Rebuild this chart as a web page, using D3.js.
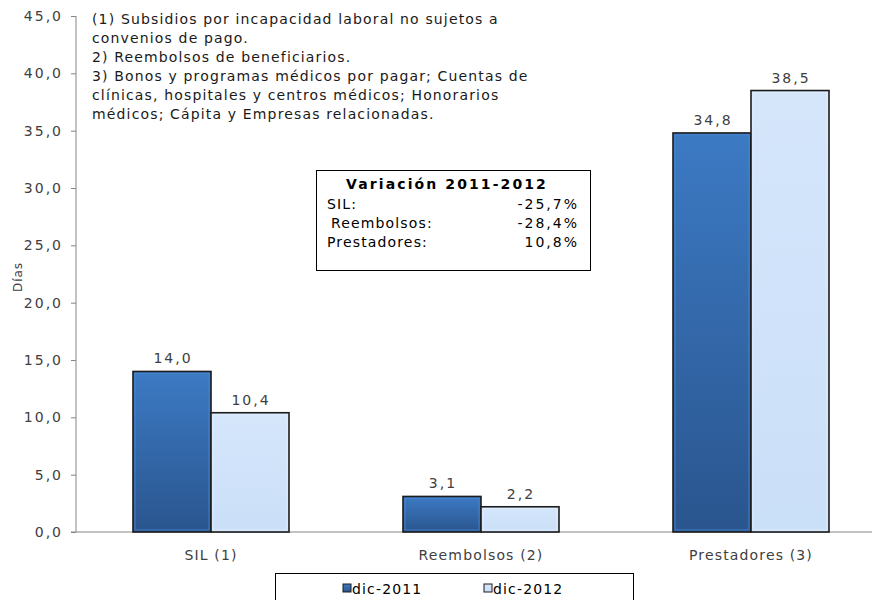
<!DOCTYPE html>
<html><head><meta charset="utf-8">
<script src="https://cdn.jsdelivr.net/npm/d3@7"></script>
<style>body{margin:0;background:#fff}svg{display:block;font-family:"DejaVu Sans",Verdana,sans-serif}
svg text{font-size:14px;letter-spacing:1.15px}
svg text.num{letter-spacing:2px}</style>
</head><body><svg id="c" width="876" height="600"></svg>
<script>
const categories = ["SIL (1)", "Reembolsos (2)", "Prestadores (3)"];
const seriesNames = ["dic-2011", "dic-2012"];
const values2011 = [14.0, 3.1, 34.8];
const values2012 = [10.4, 2.2, 38.5];
const yTicks = [0, 5, 10, 15, 20, 25, 30, 35, 40, 45];
const notes = [
  "(1) Subsidios por incapacidad laboral no sujetos a",
  "convenios de pago.",
  "2) Reembolsos de beneficiarios.",
  "3) Bonos y programas médicos por pagar; Cuentas de",
  "clínicas, hospitales y centros médicos; Honorarios",
  "médicos; Cápita y Empresas relacionadas."
];
const varTitle = "Variación 2011-2012";
const varLabels = ["SIL:", "Reembolsos:", "Prestadores:"];
const varValues = ["-25,7%", "-28,4%", "10,8%"];

const fmt = v => d3.format(".1f")(v).replace(".", ",");
const svg = d3.select("#c");
const pLeft = 76, pBottom = 532, pTop = 16, pRight = 886;
const x = d3.scaleBand().domain(categories).range([pLeft, pRight]);
const x1 = d3.scaleBand().domain(seriesNames).range([0, 156]);
const y = d3.scaleLinear().domain([0, 45]).range([pBottom, pTop]);

const defs = svg.append("defs");
const g1 = defs.append("linearGradient").attr("id", "gDark").attr("x1", 0).attr("y1", 0).attr("x2", 0).attr("y2", 1);
g1.append("stop").attr("offset", "0%").attr("stop-color", "#3c7ac4");
g1.append("stop").attr("offset", "100%").attr("stop-color", "#2a558e");
const g2 = defs.append("linearGradient").attr("id", "gLight").attr("x1", 0).attr("y1", 0).attr("x2", 0).attr("y2", 1);
g2.append("stop").attr("offset", "0%").attr("stop-color", "#d5e6fb");
g2.append("stop").attr("offset", "100%").attr("stop-color", "#cadff8");
const fills = ["url(#gDark)", "url(#gLight)"];

// y axis
const yAxis = d3.axisLeft(y).tickValues(yTicks).tickFormat(fmt).tickSize(5).tickPadding(8);
const ya = svg.append("g").attr("transform", `translate(${pLeft},0)`).call(yAxis);
ya.select(".domain").attr("stroke", "#868686").attr("d", `M0,${pTop}V${pBottom}`);
ya.selectAll(".tick line").attr("stroke", "#868686");
ya.selectAll(".tick text").attr("fill", "#404040").attr("class", "num");
ya.attr("font-size", null).attr("font-family", null);

// x axis line
svg.append("line").attr("x1", pLeft - 5).attr("x2", 872).attr("y1", pBottom).attr("y2", pBottom).attr("stroke", "#868686");
svg.selectAll(".cat").data(categories).enter().append("text")
  .attr("x", d => x(d) + x.bandwidth() / 2).attr("y", 560)
  .attr("text-anchor", "middle").attr("fill", "#404040").text(d => d);

// y title
svg.append("text").attr("transform", "translate(22,277) rotate(-90)").attr("text-anchor", "middle")
  .attr("fill", "#404040").style("font-size", "12px").style("letter-spacing", "1px").text("Días");

// bars
const series = [values2011, values2012];
const data = [];
categories.forEach((c, i) => seriesNames.forEach((s, j) => data.push({c, s, j, v: series[j][i]})));
const bx = d => x(d.c) + x.bandwidth() / 2 - 78 + x1(d.s);
svg.selectAll(".bar").data(data).enter().append("rect")
  .attr("x", bx).attr("y", d => y(d.v)).attr("width", x1.bandwidth()).attr("height", d => pBottom - y(d.v))
  .attr("fill", d => fills[d.j]).attr("stroke", "#1c1c1c").attr("stroke-width", 1.6);
svg.selectAll(".hl").data(data).enter().append("rect")
  .attr("x", d => bx(d) + 2).attr("y", d => y(d.v) + 2).attr("width", x1.bandwidth() - 4).attr("height", d => Math.max(0, pBottom - y(d.v) - 4))
  .attr("fill", "none").attr("stroke", d => d.j ? "#e4f0fd" : "#4a88d0").attr("stroke-width", 1).attr("opacity", 0.8);
svg.selectAll(".lbl").data(data).enter().append("text").attr("class", "num")
  .attr("x", d => bx(d) + x1.bandwidth() / 2 + 1).attr("y", d => y(d.v) - 8)
  .attr("text-anchor", "middle").attr("fill", "#404040").text(d => fmt(d.v));

// notes
svg.append("g").selectAll("text").data(notes).enter().append("text")
  .attr("x", 92).attr("y", (d, i) => 24 + i * 19).attr("fill", "#1a1a1a").text(d => d);

// variation box
svg.append("rect").attr("x", 316.5).attr("y", 170.5).attr("width", 274).attr("height", 100).attr("fill", "#fff").attr("stroke", "#000");
svg.append("text").attr("x", 447).attr("y", 189).attr("text-anchor", "middle").attr("fill", "#000")
  .style("font-weight", "bold").style("letter-spacing", "2.1px").text(varTitle);
const lx = [327, 331, 327];
svg.selectAll(".vl").data(varLabels).enter().append("text")
  .attr("x", (d, i) => lx[i]).attr("y", (d, i) => 209 + i * 19).attr("fill", "#000").text(d => d);
svg.selectAll(".vv").data(varValues).enter().append("text").attr("class", "num")
  .attr("x", 579).attr("y", (d, i) => 209 + i * 19).attr("text-anchor", "end").attr("fill", "#000").text(d => d);

// legend
svg.append("rect").attr("x", 275.5).attr("y", 573.5).attr("width", 358).attr("height", 40).attr("fill", "#fff").attr("stroke", "#000");
const lg = svg.selectAll(".lg").data(seriesNames).enter().append("g")
  .attr("transform", (d, i) => `translate(${[343, 484][i]},0)`);
lg.append("rect").attr("x", 0).attr("y", 584).attr("width", 8).attr("height", 8)
  .attr("fill", (d, i) => fills[i]).attr("stroke", "#1c1c1c").attr("stroke-width", 1);
lg.append("text").attr("x", 9).attr("y", 594).attr("fill", "#000").text(d => d);
</script></body></html>
